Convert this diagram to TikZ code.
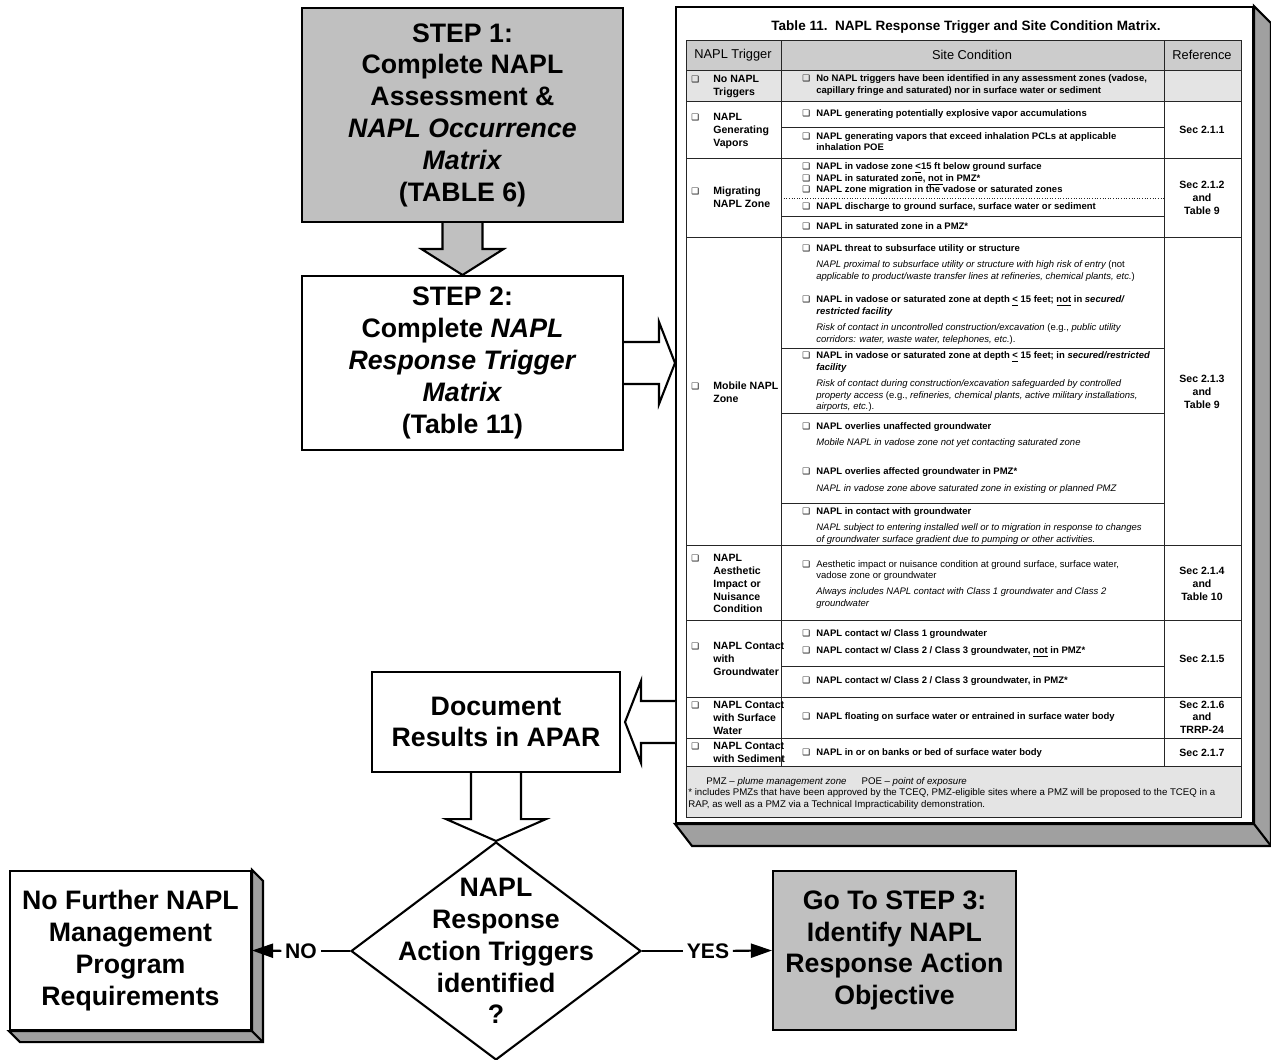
\documentclass[tikz,border=0pt]{standalone}
\usepackage{fontspec}
\setmainfont{Liberation Sans}
\newfontfamily\symfont{DejaVu Sans}
\usepackage{tikz}
\usetikzlibrary{arrows.meta, positioning, calc, shapes.geometric}

\definecolor{boxgray}{RGB}{192,192,192}
\definecolor{sidegray}{RGB}{160,160,160}
\definecolor{headgray}{RGB}{204,204,204}
\definecolor{rowgray}{RGB}{228,228,228}

\newcommand{\chk}{\llap{{\symfont\fontsize{5}{5}\selectfont ❑}\hspace{3.5pt}}}
\newcommand{\chkk}{\llap{{\symfont\fontsize{5}{5}\selectfont ❑}\hspace{8pt}}}
\newcommand{\nt}[1]{{\mdseries\itshape #1}}

\begin{document}
\begin{tikzpicture}[
    x=0.02cm, y=-0.02cm,
    step box/.style={draw, line width=1.2pt, align=center, inner sep=0pt,
        font=\fontsize{15.2}{18.1}\selectfont\bfseries},
    block arrow/.style={draw, line width=1.2pt, line join=miter, fill=white},
    yn label/.style={font=\fontsize{12}{13}\selectfont\bfseries, inner sep=2pt},
    yn edge/.style={line width=1.2pt, -{Triangle[length=12pt, width=8pt]}},
    grid line/.style={line width=0.5pt, draw=black!85},
    head text/.style={inner sep=0pt, font=\fontsize{7.3}{8}\selectfont},
    trig text/.style={anchor=north west, align=left, inner sep=0pt,
        font=\fontsize{6}{7.3}\selectfont\bfseries},
    ref text/.style={align=center, inner sep=0pt, font=\fontsize{6}{7.2}\selectfont\bfseries},
    cell text/.style={anchor=west, inner sep=0pt, text height=3.9pt, text depth=1.1pt,
        font=\fontsize{5.4}{6.5}\selectfont\bfseries},
    foot text/.style={anchor=west, inner sep=0pt, font=\fontsize{5.5}{6.5}\selectfont}
]
\useasboundingbox (0,0) rectangle (1271,1059);

% Nodes
\node[step box, fill=boxgray, minimum width=6.42cm, minimum height=4.28cm] (S1) at (462.5,115)
    {STEP 1:\\Complete NAPL\\Assessment \&\\\textit{NAPL Occurrence}\\\textit{Matrix}\\(TABLE 6)};
\node[step box, fill=white, minimum width=6.42cm, minimum height=3.48cm] (S2) at (462.5,363)
    {STEP 2:\\Complete \textit{NAPL}\\\textit{Response Trigger}\\\textit{Matrix}\\(Table 11)};
\node[draw, line width=1.2pt, fill=white, inner sep=0pt, minimum width=11.54cm, minimum height=16.32cm] (T) at (964.5,415) {};
\node[step box, fill=white, minimum width=4.96cm, minimum height=2cm] (D) at (496,722) {Document\\Results in APAR};
\node[draw, diamond, line width=1.2pt, inner sep=0pt, minimum width=5.8cm, minimum height=4.36cm] (Q) at (496,951) {};
\node[step box, draw=none] (Qt) at (Q.center) {NAPL\\Response\\Action Triggers\\identified\\?};
\node[step box, fill=white, minimum width=4.82cm, minimum height=3.18cm] (NF) at (130.5,950.5)
    {No Further NAPL\\Management\\Program\\Requirements};
\node[step box, fill=boxgray, minimum width=4.86cm, minimum height=3.18cm] (G3) at (894.5,950.5)
    {Go To STEP 3:\\Identify NAPL\\Response Action\\Objective};

% 3D sides
\draw[line width=1.2pt, line join=miter, fill=sidegray] (T.north east) -- ++(17,17) -- ($(T.south east)+(17,22)$)
    -- ($(T.south west)+(17,22)$) -- (T.south west) -- (T.south east) -- cycle;
\draw[line width=1.2pt] (T.south east) -- ++(17,22);
\draw[line width=1.2pt, line join=miter, fill=sidegray] (NF.north east) -- ++(11,11) -- ($(NF.south east)+(11,11)$)
    -- ($(NF.south west)+(11,11)$) -- (NF.south west) -- (NF.south east) -- cycle;
\draw[line width=1.2pt] (NF.south east) -- ++(11,11);

% Block arrows
\draw[block arrow, fill=boxgray] ($(S1.south)+(-20,0)$) -- ++(0,26) -- ++(-21,0) -- (S2.north)
    -- ($(S1.south)+(41,26)$) -- ++(-21,0) -- ++(0,-26);
\draw[block arrow] ($(S2.east)+(0,-21)$) -- ++(35,0) -- ++(0,-20) -- (S2.east -| T.west)
    -- ($(S2.east)+(35,41)$) -- ++(0,-20) -- ++(-35,0);
\draw[block arrow] ($(D.east -| T.west)+(0,-21)$) -- ($(D.east)+(20,-21)$) -- ++(0,-20) -- ($(D.east)+(4,0)$)
    -- ($(D.east)+(20,41)$) -- ++(0,-20) -- ($(D.east -| T.west)+(0,21)$);
\draw[block arrow] ($(D.south)+(-25,0)$) -- ++(0,46) -- ++(-25,0) -- (Q.north)
    -- ($(D.south)+(50,46)$) -- ++(-25,0) -- ++(0,-46);

% Yes / No
\node[yn label] (no) at (301,951) {NO};
\node[yn label] (yes) at (708,951) {YES};
\draw[line width=1.2pt] (Q.west) -- (no);
\draw[yn edge] (no) -- (NF.east);
\draw[line width=1.2pt] (Q.east) -- (yes);
\draw[yn edge] (yes) -- (G3.west);

% Table 11
\node[inner sep=0pt, font=\fontsize{7.7}{9}\selectfont\bfseries] (ttl) at (966,27)
    {Table 11.\ \ NAPL Response Trigger and Site Condition Matrix.};
\fill[headgray] (686,40) rectangle (1241,70);
\fill[rowgray] (686,70) rectangle (1241,101);
\fill[rowgray] (686,766) rectangle (1241,817);
\draw[grid line] (686,40) rectangle (1241,817);
\foreach \y in {70,101,158,237,545,620,697,738,766}
    \draw[grid line] (686,\y) -- (1241,\y);
\draw[grid line] (781,40) -- (781,766) (1164,40) -- (1164,766);
\foreach \y in {127,216,348,413,503,666}
    \draw[grid line] (781,\y) -- (1164,\y);
\draw[grid line, densely dotted] (781,198) -- (1164,198);

\node[head text] (h1) at (733,55) {NAPL Trigger};
\node[head text] (h2) at (972,55) {Site Condition};
\node[head text] (h3) at (1202,55) {Reference};

\foreach \y/\t [count=\i] in {75/{\chkk No NAPL\\Triggers}, 113/{\chkk NAPL\\Generating\\Vapors},
    187/{\chkk Migrating\\NAPL Zone}, 382/{\chkk Mobile NAPL\\Zone},
    554/{\chkk NAPL\\Aesthetic\\Impact or\\Nuisance\\Condition},
    642/{\chkk NAPL Contact\\with\\Groundwater}, 701/{\chkk NAPL Contact\\with Surface\\Water},
    742/{\chkk NAPL Contact\\with Sediment}}
    \node[trig text] (L\i) at (713,\y) {\t};

\foreach \y/\t [count=\i] in {130/{Sec 2.1.1}, 198/{Sec 2.1.2\\and\\Table 9}, 392/{Sec 2.1.3\\and\\Table 9},
    584/{Sec 2.1.4\\and\\Table 10}, 659/{Sec 2.1.5}, 717/{Sec 2.1.6\\and\\TRRP-24}, 753/{Sec 2.1.7}}
    \node[ref text] (R\i) at (1202,\y) {\t};

\foreach \y/\t [count=\i] in {
    79/{\chk No NAPL triggers have been identified in any assessment zones (vadose,},
    91/{capillary fringe and saturated) nor in surface water or sediment},
    114/{\chk NAPL generating potentially explosive vapor accumulations},
    137/{\chk NAPL generating vapors that exceed inhalation PCLs at applicable},
    148/{inhalation POE},
    167/{\chk NAPL in vadose zone \underline{<}15 ft below ground surface},
    179/{\chk NAPL in saturated zone, \underline{not} in PMZ*},
    190/{\chk NAPL zone migration in the vadose or saturated zones},
    207/{\chk NAPL discharge to ground surface, surface water or sediment},
    227/{\chk NAPL in saturated zone in a PMZ*},
    249/{\chk NAPL threat to subsurface utility or structure},
    265/{\nt{NAPL proximal to subsurface utility or structure with high risk of entry} {\mdseries (not}},
    277/{\nt{applicable to product/waste transfer lines at refineries, chemical plants, etc.}{\mdseries )}},
    300/{\chk NAPL in vadose or saturated zone at depth \underline{<} 15 feet; \underline{not} in \textit{secured/}},
    312/{\textit{restricted facility}},
    328/{\nt{Risk of contact in uncontrolled construction/excavation} {\mdseries (e.g.,} \nt{public utility}},
    340/{\nt{corridors: water, waste water, telephones, etc.}{\mdseries ).}},
    356/{\chk NAPL in vadose or saturated zone at depth \underline{<} 15 feet; in \textit{secured/restricted}},
    368/{\textit{facility}},
    384/{\nt{Risk of contact during construction/excavation safeguarded by controlled}},
    396/{\nt{property access} {\mdseries (e.g.,} \nt{refineries, chemical plants, active military installations,}},
    407/{\nt{airports, etc.}{\mdseries ).}},
    427/{\chk NAPL overlies unaffected groundwater},
    443/{\nt{Mobile NAPL in vadose zone not yet contacting saturated zone}},
    472/{\chk NAPL overlies affected groundwater in PMZ*},
    489/{\nt{NAPL in vadose zone above saturated zone in existing or planned PMZ}},
    512/{\chk NAPL in contact with groundwater},
    528/{\nt{NAPL subject to entering installed well or to migration in response to changes}},
    540/{\nt{of groundwater surface gradient due to pumping or other activities.}},
    565/{\chk{\mdseries Aesthetic impact or nuisance condition at ground surface, surface water,}},
    576/{{\mdseries vadose zone or groundwater}},
    592/{\nt{Always includes NAPL contact with Class 1 groundwater and Class 2}},
    604/{\nt{groundwater}},
    634/{\chk NAPL contact w/ Class 1 groundwater},
    651/{\chk NAPL contact w/ Class 2 / Class 3 groundwater, \underline{not} in PMZ*},
    681/{\chk NAPL contact w/ Class 2 / Class 3 groundwater, in PMZ*},
    717/{\chk NAPL floating on surface water or entrained in surface water body},
    753/{\chk NAPL in or on banks or bed of surface water body}}
    \node[cell text] (C\i) at (816,\y) {\t};

\node[foot text] (F1) at (706,782) {PMZ -- \textit{plume management zone}\quad\ \ POE -- \textit{point of exposure}};
\node[foot text] (F2) at (688,793) {* includes PMZs that have been approved by the TCEQ, PMZ-eligible sites where a PMZ will be proposed to the TCEQ in a};
\node[foot text] (F3) at (688,805) {RAP, as well as a PMZ via a Technical Impracticability demonstration.};
\end{tikzpicture}
\end{document}
